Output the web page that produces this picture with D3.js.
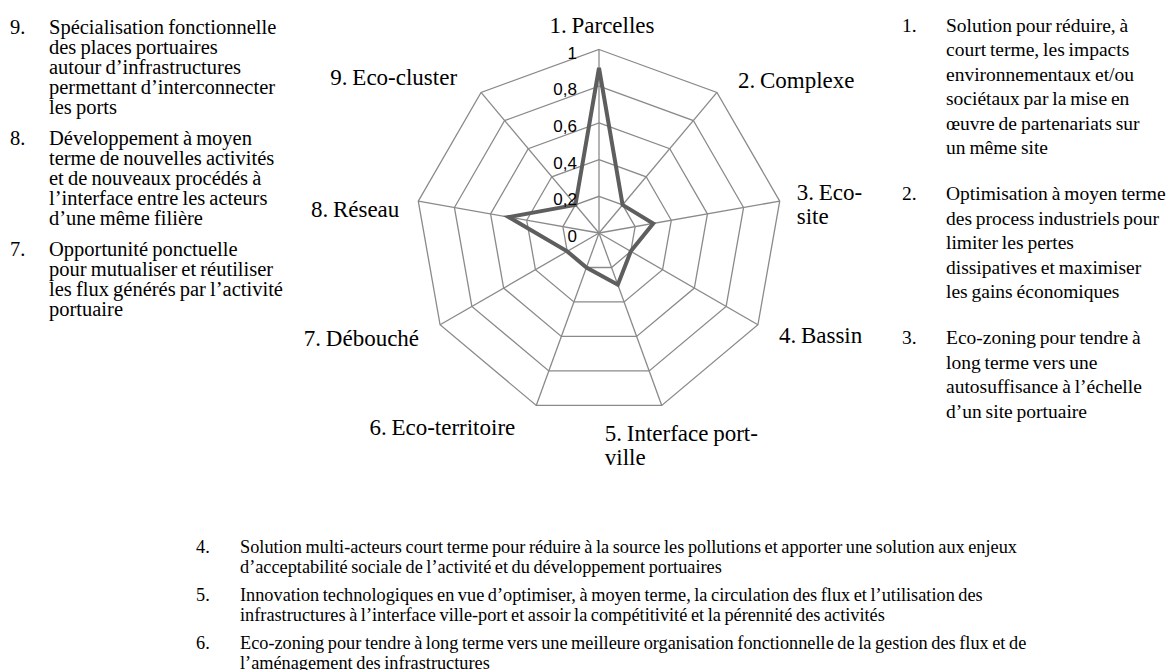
<!DOCTYPE html>
<html>
<head>
<meta charset="utf-8">
<script src="https://d3js.org/d3.v7.min.js"></script>
<style>
  body { margin: 0; background: #fff; }
  .note { font-family: "Liberation Serif", "DejaVu Serif", serif; fill: #000; word-spacing: -1px; }
  .left { font-size: 20.5px; }
  .right { font-size: 19.5px; }
  .bottom { font-size: 18.3px; }
  .axlabel { font-family: "Liberation Serif", "DejaVu Serif", serif; font-size: 23px; fill: #000; word-spacing: -1px; }
  .tick { font-family: "Liberation Sans", Arial, sans-serif; font-size: 17px; fill: #000; }
</style>
</head>
<body>
<div id="chart"></div>
<script>

// axis names (\n = line break, as in the original)
var axes = ["1. Parcelles", "2. Complexe", "3. Eco-\nsite", "4. Bassin",
            "5. Interface port-\nville", "6. Eco-territoire", "7. Débouché",
            "8. Réseau", "9. Eco-cluster"];
var values = [0.9, 0.2, 0.3, 0.2, 0.3, 0.2, 0.2, 0.5, 0.2];
var ticks = [0, 0.2, 0.4, 0.6, 0.8, 1];
var tickLabels = ["0", "0,2", "0,4", "0,6", "0,8", "1"];

var leftNotes = [
  ["9.", ["Spécialisation fonctionnelle", "des  places portuaires", "autour d’infrastructures", "permettant d’interconnecter", "les ports"]],
  ["8.", ["Développement à moyen", "terme de nouvelles activités", "et de  nouveaux procédés à", "l’interface entre les acteurs", "d’une même filière"]],
  ["7.", ["Opportunité ponctuelle", "pour mutualiser et réutiliser", "les flux générés par l’activité", "portuaire"]]
];
var rightNotes = [
  ["1.", ["Solution pour réduire, à", "court terme, les impacts", "environnementaux et/ou", "sociétaux par la mise en", "œuvre de partenariats sur", "un même site"]],
  ["2.", ["Optimisation à moyen terme", "des process industriels pour", "limiter les pertes", "dissipatives et maximiser", "les gains économiques"]],
  ["3.", ["Eco-zoning pour tendre à", "long terme vers une", "autosuffisance à l’échelle", "d’un site portuaire"]]
];
var bottomNotes = [
  ["4.", ["Solution multi-acteurs court terme pour réduire à la source les pollutions et apporter une solution aux enjeux", "d’acceptabilité sociale de l’activité et du développement portuaires"]],
  ["5.", ["Innovation technologiques en vue d’optimiser, à moyen terme, la circulation des flux et l’utilisation des", "infrastructures à l’interface ville-port et assoir la compétitivité et la pérennité des activités"]],
  ["6.", ["Eco-zoning pour tendre à long terme vers une meilleure organisation fonctionnelle de la gestion des flux et de", "l’aménagement des infrastructures"]]
];

var width = 1170, height = 670;
var cx = 599, cy = 233, radius = 183.5;

var svg = d3.select("#chart").append("svg")
    .attr("width", width)
    .attr("height", height);

svg.append("rect").attr("width", width).attr("height", height).attr("fill", "#fff");

var r = d3.scaleLinear().domain([0, 1]).range([0, radius]);
var angle = d3.scaleLinear().domain([0, axes.length]).range([0, 2 * Math.PI]);

var g = svg.append("g").attr("transform", "translate(" + cx + "," + cy + ")");

function pt(i, v) {
  var a = angle(i);
  return [r(v) * Math.sin(a), -r(v) * Math.cos(a)];
}

var ring = d3.lineRadial()
    .angle(function(d, i) { return angle(i); })
    .radius(function(d) { return r(d); })
    .curve(d3.curveLinearClosed);

// web
g.selectAll(".ring")
    .data(ticks.filter(function(t) { return t > 0; }))
  .enter().append("path")
    .attr("class", "ring")
    .attr("d", function(t) { return ring(axes.map(function() { return t; })); })
    .attr("fill", "none")
    .attr("stroke", "#8a8a8a")
    .attr("stroke-width", 1.3);

g.selectAll(".spoke")
    .data(axes)
  .enter().append("line")
    .attr("class", "spoke")
    .attr("x1", 0).attr("y1", 0)
    .attr("x2", function(d, i) { return pt(i, 1)[0]; })
    .attr("y2", function(d, i) { return pt(i, 1)[1]; })
    .attr("stroke", "#8a8a8a")
    .attr("stroke-width", 1.3);

// series
g.append("path")
    .datum(values)
    .attr("d", ring)
    .attr("fill", "none")
    .attr("stroke", "#5e5e5e")
    .attr("stroke-width", 4)
    .attr("stroke-linejoin", "miter");

// value ticks along the first axis
g.selectAll(".tick")
    .data(ticks)
  .enter().append("text")
    .attr("class", "tick")
    .attr("x", -22)
    .attr("y", function(t) { return -r(t) + 3.5; })
    .attr("dominant-baseline", "central")
    .attr("text-anchor", "end")
    .text(function(t, i) { return tickLabels[i]; });

// category labels, placed from the outer vertex of each axis
var nudge = [
  {dx: 3, dy: -24.5, anchor: "middle"},
  {dx: 21, dy: -12.5, anchor: "start"},
  {dx: 17, dy: -9, anchor: "start"},
  {dx: 21, dy: 10, anchor: "start"},
  {dx: -57, dy: 28, anchor: "start"},
  {dx: -21, dy: 22, anchor: "end"},
  {dx: -21, dy: 13, anchor: "end"},
  {dx: -19, dy: 8, anchor: "end"},
  {dx: -24, dy: -15, anchor: "end"}
];

axes.forEach(function(name, i) {
  var p = pt(i, 1), n = nudge[i];
  var t = g.append("text")
      .attr("class", "axlabel")
      .attr("text-anchor", n.anchor)
      .attr("dominant-baseline", "central");
  name.split("\n").forEach(function(line, k) {
    t.append("tspan")
      .attr("x", p[0] + n.dx)
      .attr("y", p[1] + n.dy + k * 24)
      .text(line);
  });
});

// explanatory notes
function notes(list, cls, numX, textX, top, lineH, gap) {
  var y = top;
  list.forEach(function(item) {
    svg.append("text").attr("class", "note " + cls)
      .attr("x", numX).attr("y", y)
      .attr("dominant-baseline", "central")
      .text(item[0]);
    item[1].forEach(function(line, k) {
      svg.append("text").attr("class", "note " + cls)
        .attr("x", textX).attr("y", y + k * lineH)
        .attr("dominant-baseline", "central")
        .text(line);
    });
    y += (item[1].length - 1) * lineH + gap;
  });
}

notes(leftNotes, "left", 10, 49, 26.7, 20, 31);
notes(rightNotes, "right", 902, 946, 25, 24.5, 46);
notes(bottomNotes, "bottom", 196, 240, 547, 20, 28);

</script>
</body>
</html>
